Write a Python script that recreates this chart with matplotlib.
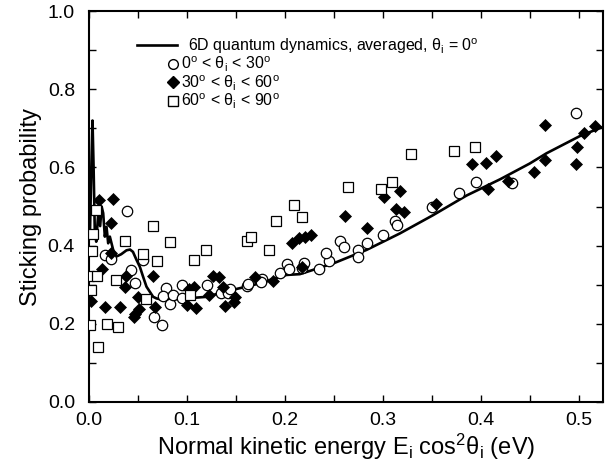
import matplotlib
matplotlib.use("Agg")
import matplotlib.pyplot as plt
from matplotlib.ticker import MultipleLocator, FormatStrFormatter
from matplotlib.lines import Line2D

plt.rcParams['font.family'] = ['Liberation Sans', 'DejaVu Sans']
plt.rcParams['mathtext.fontset'] = 'custom'
plt.rcParams['mathtext.rm'] = 'Liberation Sans'
plt.rcParams['mathtext.it'] = 'Liberation Sans:italic'

# 6D quantum dynamics curve
curve_x = [0.001, 0.0025, 0.0037, 0.0048, 0.006, 0.0075, 0.0095, 0.0115, 0.013, 0.0146,
           0.0163, 0.018, 0.0197, 0.0214, 0.0248, 0.028, 0.033, 0.0384, 0.042, 0.045,
           0.0487, 0.052, 0.0554, 0.0588, 0.0622, 0.0656, 0.069, 0.0758, 0.0997, 0.12,
           0.14, 0.1677, 0.2017, 0.2153, 0.25, 0.2834, 0.3173, 0.3514, 0.3854, 0.42,
           0.45, 0.467, 0.501, 0.525]
curve_y = [0.42, 0.60, 0.72, 0.60, 0.44, 0.41, 0.48, 0.45, 0.50, 0.483,
           0.423, 0.448, 0.406, 0.423, 0.389, 0.372, 0.378, 0.388, 0.39, 0.384,
           0.363, 0.346, 0.32, 0.295, 0.282, 0.269, 0.265, 0.261, 0.265, 0.269,
           0.283, 0.299, 0.325, 0.327, 0.355, 0.389, 0.431, 0.478, 0.528, 0.57,
           0.61, 0.636, 0.68, 0.704]

# 0 < theta < 30
circ_x = [0.0384, 0.0167, 0.0228, 0.0425, 0.0466, 0.0548, 0.0663, 0.0745, 0.0786, 0.0758,
          0.0827, 0.0854, 0.095, 0.095, 0.1207, 0.1344, 0.1425, 0.1439, 0.161, 0.1622,
          0.1765, 0.1759, 0.195, 0.2024, 0.2044, 0.218, 0.220, 0.235, 0.2446, 0.2425,
          0.2568, 0.260, 0.275, 0.275, 0.2834, 0.300, 0.3126, 0.3146, 0.3507, 0.3779,
          0.3949, 0.4316, 0.4976]
circ_y = [0.488, 0.377, 0.367, 0.338, 0.305, 0.363, 0.218, 0.198, 0.292, 0.271,
          0.251, 0.273, 0.298, 0.266, 0.300, 0.278, 0.278, 0.288, 0.297, 0.302,
          0.315, 0.307, 0.331, 0.353, 0.341, 0.344, 0.356, 0.339, 0.360, 0.382,
          0.411, 0.396, 0.390, 0.370, 0.407, 0.426, 0.462, 0.453, 0.500, 0.535,
          0.563, 0.561, 0.740]

# 30 < theta < 60
diam_x = [0.0105, 0.0248, 0.0221, 0.0228, 0.0133, 0.0378, 0.0364, 0.065, 0.0024, 0.0167,
          0.0316, 0.050, 0.0507, 0.0473, 0.046, 0.067, 0.1024, 0.107, 0.0997, 0.109,
          0.1228, 0.1269, 0.133, 0.137, 0.149, 0.148, 0.139, 0.1697, 0.188, 0.207,
          0.2146, 0.2207, 0.2268, 0.218, 0.2616, 0.2834, 0.3017, 0.318, 0.314, 0.3214,
          0.3541, 0.3908, 0.405, 0.416, 0.4071, 0.4276, 0.4656, 0.5163, 0.505, 0.4983,
          0.4969, 0.4656, 0.4548]
diam_y = [0.517, 0.520, 0.457, 0.380, 0.339, 0.322, 0.293, 0.322, 0.258, 0.242,
          0.244, 0.268, 0.239, 0.225, 0.217, 0.242, 0.288, 0.295, 0.247, 0.240,
          0.273, 0.322, 0.320, 0.293, 0.269, 0.257, 0.245, 0.320, 0.310, 0.407,
          0.419, 0.421, 0.428, 0.346, 0.477, 0.445, 0.525, 0.540, 0.493, 0.486,
          0.506, 0.609, 0.612, 0.629, 0.544, 0.566, 0.709, 0.707, 0.689, 0.653,
          0.610, 0.619, 0.588]

# 60 < theta < 90
sq_x = [0.0071, 0.0044, 0.003, 0.0003, 0.0078, 0.0017, 0.001, 0.018, 0.0296, 0.0276,
        0.0364, 0.0656, 0.0548, 0.0697, 0.0833, 0.0582, 0.107, 0.120, 0.103, 0.0095,
        0.1615, 0.1656, 0.184, 0.1908, 0.2092, 0.218, 0.265, 0.2977, 0.3092, 0.3289,
        0.3724, 0.3942]
sq_y = [0.491, 0.431, 0.387, 0.322, 0.322, 0.286, 0.198, 0.199, 0.193, 0.312,
        0.413, 0.450, 0.378, 0.361, 0.409, 0.264, 0.363, 0.389, 0.273, 0.141,
        0.413, 0.421, 0.389, 0.464, 0.503, 0.472, 0.549, 0.544, 0.563, 0.634,
        0.643, 0.653]

fig = plt.figure(figsize=(6.13, 4.61), dpi=100)
ax = fig.add_axes([0.145, 0.128, 0.839, 0.848])

ax.plot(curve_x, curve_y, color='black', lw=1.9, zorder=2)
ax.plot(circ_x, circ_y, 'o', ms=7.5, mfc='white', mec='black', mew=0.9, zorder=3)
ax.plot(diam_x, diam_y, 'D', ms=6.5, mfc='black', mec='black', mew=0.5, zorder=4)
ax.plot(sq_x, sq_y, 's', ms=7, mfc='white', mec='black', mew=0.9, zorder=5)

ax.set_xlim(0, 0.525)
ax.set_ylim(0, 1.0)
ax.xaxis.set_major_locator(MultipleLocator(0.1))
ax.xaxis.set_minor_locator(MultipleLocator(0.05))
ax.yaxis.set_major_locator(MultipleLocator(0.2))
ax.yaxis.set_minor_locator(MultipleLocator(0.1))
ax.xaxis.set_major_formatter(FormatStrFormatter('%.1f'))
ax.yaxis.set_major_formatter(FormatStrFormatter('%.1f'))
ax.tick_params(which='both', direction='in', top=True, right=True, length=5, width=1)
ax.tick_params(labelsize=14)
ax.tick_params(axis='x', pad=7)
ax.tick_params(axis='y', pad=10)
for s in ax.spines.values():
    s.set_linewidth(1.5)

ax.set_xlabel(r'Normal kinetic energy E$_{\mathrm{i}}$ cos$^{2}$θ$_{\mathrm{i}}$ (eV)', fontsize=17, labelpad=2)
ax.set_ylabel('Sticking probability', fontsize=17, labelpad=4)

h_line = [Line2D([], [], color='black', lw=1.9)]
leg1 = ax.legend(h_line, [r'6D quantum dynamics, averaged, θ$_{\mathrm{i}}$ = 0$^{\mathrm{o}}$'],
                 loc='upper left', bbox_to_anchor=(0.093, 0.935), frameon=False,
                 fontsize=11.5, handlelength=2.5, handletextpad=0.7, borderpad=0, borderaxespad=0)
ax.add_artist(leg1)
h_mk = [Line2D([], [], ls='none', marker='o', ms=7, mfc='white', mec='black'),
        Line2D([], [], ls='none', marker='D', ms=6, mfc='black', mec='black'),
        Line2D([], [], ls='none', marker='s', ms=6.5, mfc='white', mec='black')]
labels = [r'0$^{\mathrm{o}}$ < θ$_{\mathrm{i}}$ < 30$^{\mathrm{o}}$',
          r'30$^{\mathrm{o}}$ < θ$_{\mathrm{i}}$ < 60$^{\mathrm{o}}$',
          r'60$^{\mathrm{o}}$ < θ$_{\mathrm{i}}$ < 90$^{\mathrm{o}}$']
ax.legend(h_mk, labels, loc='upper left', bbox_to_anchor=(0.154, 0.888), frameon=False,
          fontsize=11.5, handlelength=0.6, handletextpad=0.2, labelspacing=-0.05,
          borderpad=0, borderaxespad=0)

fig.savefig('out.png', dpi=100)
